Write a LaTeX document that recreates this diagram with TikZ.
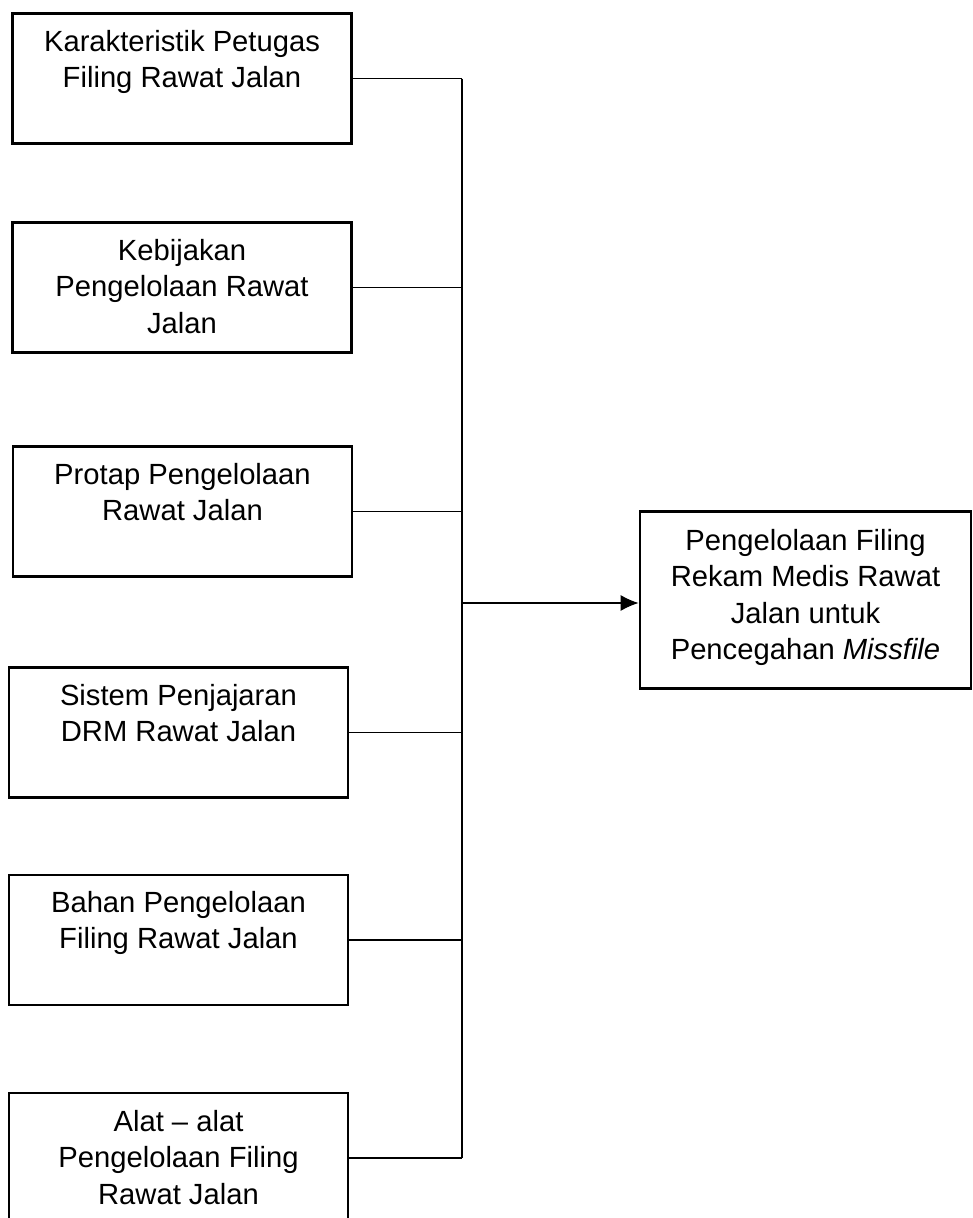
\documentclass[tikz,border=0pt]{standalone}
\usepackage{fontspec}
\setmainfont{Liberation Sans}
\usetikzlibrary{arrows.meta}
\begin{document}
\begin{tikzpicture}[x=1pt,y=-1pt,
  box/.style={draw, line width=2.8pt, inner sep=0pt, minimum width=339pt, minimum height=130pt},
  lbl/.style={anchor=north, inner sep=0pt, align=center, font=\fontsize{29.2}{36.5}\selectfont},
  conn/.style={line width=1.2pt},
  spine/.style={line width=1.4pt}]
\useasboundingbox (0,0) rectangle (972,1218);
\fill[white] (0,0) rectangle (972,1218);
% boxes
\node[box] (b1) at (182,78.5) {};
\node[box] (b2) at (182,287.5) {};
\node[box] (b3) at (182.5,511.5) {};
\node[box] (b4) at (178.5,732.5) {};
\node[box] (b5) at (178.5,940) {};
\node[box] (b6) at (178.5,1158) {};
\node[box, minimum width=331pt, minimum height=177pt] (rb) at (805.5,600) {};
% texts
\node[lbl] (t1) at (182,30) {Karakteristik Petugas\\Filing Rawat Jalan};
\node[lbl] (t2) at (182,239) {Kebijakan\\Pengelolaan Rawat\\Jalan};
\node[lbl] (t3) at (182.5,463) {Protap Pengelolaan\\Rawat Jalan};
\node[lbl] (t4) at (178.5,684) {Sistem Penjajaran\\DRM Rawat Jalan};
\node[lbl] (t5) at (178.5,891) {Bahan Pengelolaan\\Filing Rawat Jalan};
\node[lbl] (t6) at (178.5,1110) {Alat -- alat\\Pengelolaan Filing\\Rawat Jalan};
\node[lbl] (t7) at (805.5,529) {Pengelolaan Filing\\Rekam Medis Rawat\\Jalan untuk\\Pencegahan \textit{Missfile}};
% connectors
\coordinate (sp) at (462,0);
\foreach \b in {b1,b2,b3,b4,b5,b6}{
  \draw[conn] (\b.east) -- (\b.east -| sp);
}
\draw[spine] (b1.east -| sp) -- (b6.east -| sp);
\coordinate (arr) at (463,603);
\draw[conn, -{Latex[length=18pt,width=16pt]}] (arr) -- (arr -| rb.west);
\end{tikzpicture}
\end{document}
